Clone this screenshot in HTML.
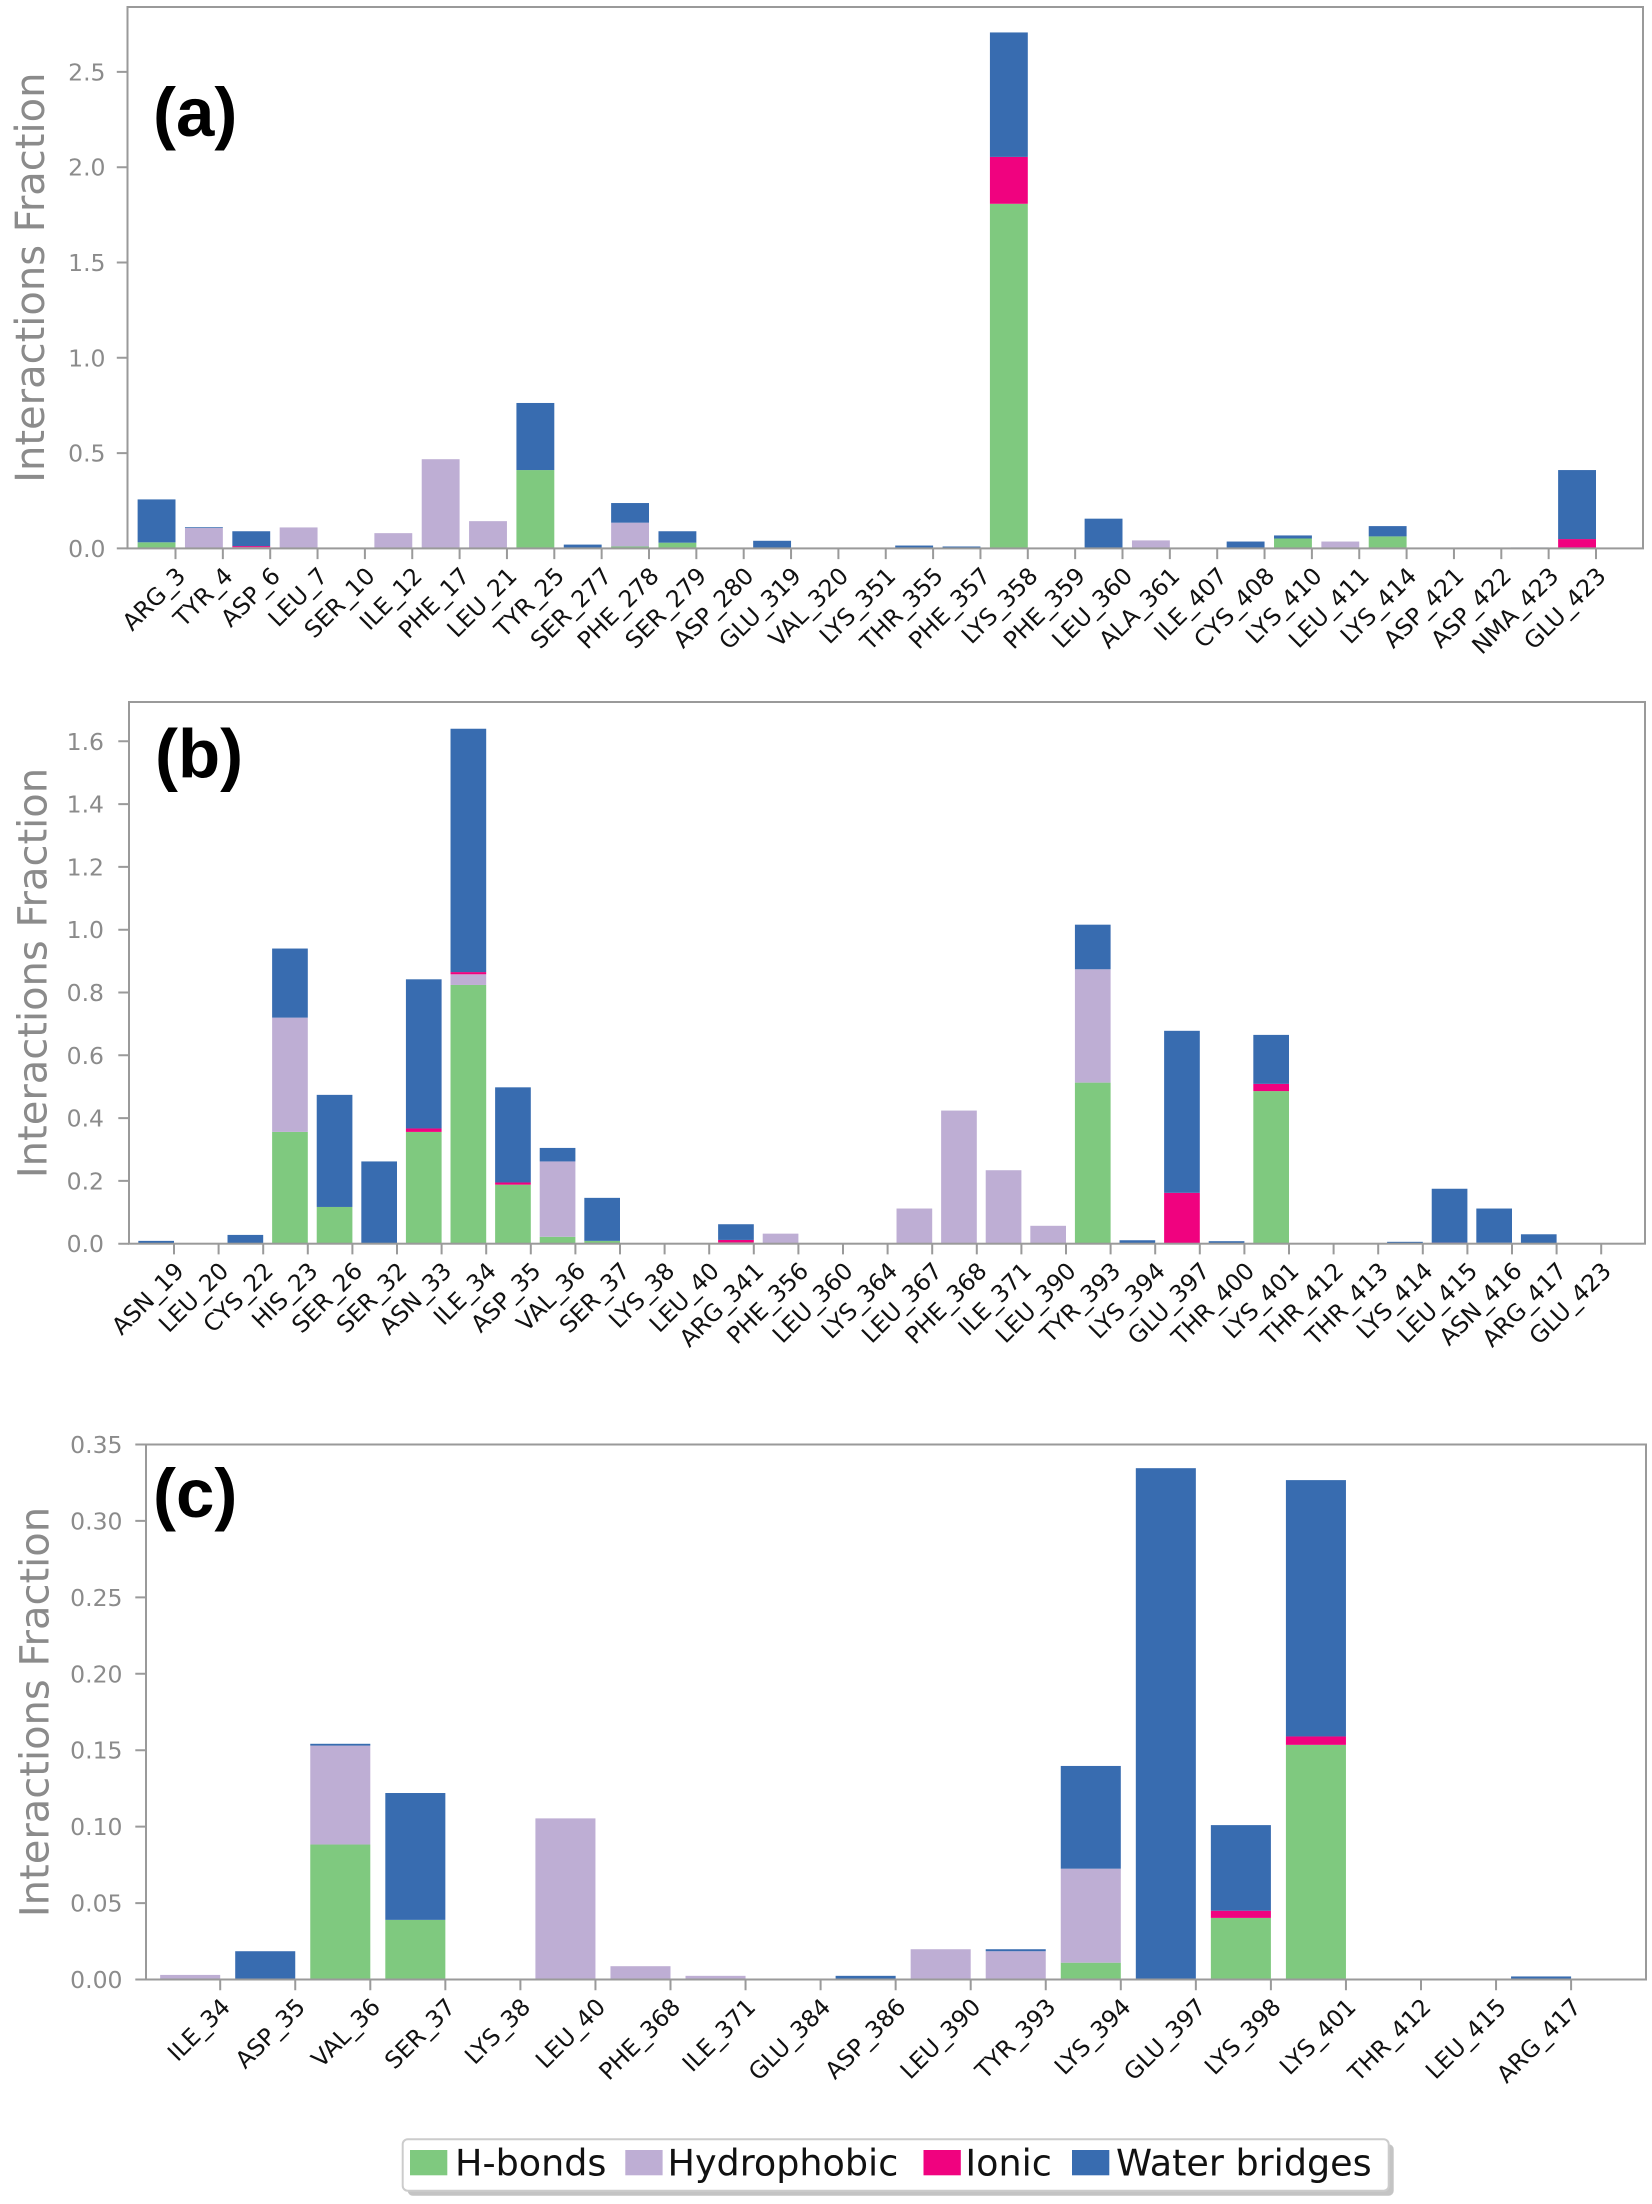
<!DOCTYPE html>
<html>
<head>
<meta charset="utf-8">
<style>
html,body{margin:0;padding:0;background:#fff;}
svg{display:block;}
.xt{font-family:"DejaVu Sans","Liberation Sans",sans-serif;font-size:23.5px;fill:#111;text-anchor:end;}
.yt{font-family:"DejaVu Sans","Liberation Sans",sans-serif;font-size:23.5px;fill:#8b8b8b;text-anchor:end;}
.yl{font-family:"DejaVu Sans","Liberation Sans",sans-serif;font-size:40px;fill:#8b8b8b;text-anchor:middle;}
.pl{font-family:"Liberation Sans",sans-serif;font-weight:bold;font-size:69px;fill:#000;}
.lg{font-family:"DejaVu Sans","Liberation Sans",sans-serif;font-size:36.5px;fill:#111;}
.g{fill:#7fc97f;}.p{fill:#beaed4;}.i{fill:#f0027f;}.w{fill:#386cb0;}
.tk{stroke:#9a9a9a;stroke-width:2;fill:none;}
.sp{stroke:#9a9a9a;stroke-width:2;fill:none;}
</style>
</head>
<body>
<svg width="1652" height="2204" viewBox="0 0 1652 2204" xmlns="http://www.w3.org/2000/svg">
<rect x="0" y="0" width="1652" height="2204" fill="#fff"/>

<!-- ================= PANEL A ================= -->
<g transform="translate(137.62,548.4) scale(47.35,-190.6)">
<rect class="g" x="0" y="0" width=".8" height=".032"/><rect class="w" x="0" y=".032" width=".8" height=".225"/>
<rect class="p" x="1" y="0" width=".8" height=".107"/><rect class="w" x="1" y=".107" width=".8" height=".004"/>
<rect class="g" x="2" y="0" width=".8" height=".006"/><rect class="i" x="2" y=".006" width=".8" height=".006"/><rect class="w" x="2" y=".012" width=".8" height=".078"/>
<rect class="p" x="3" y="0" width=".8" height=".110"/>
<rect class="p" x="5" y="0" width=".8" height=".080"/>
<rect class="p" x="6" y="0" width=".8" height=".468"/>
<rect class="p" x="7" y="0" width=".8" height=".143"/>
<rect class="g" x="8" y="0" width=".8" height=".411"/><rect class="w" x="8" y=".411" width=".8" height=".352"/>
<rect class="w" x="9" y="0" width=".8" height=".02"/>
<rect class="g" x="10" y="0" width=".8" height=".01"/><rect class="p" x="10" y=".01" width=".8" height=".125"/><rect class="w" x="10" y=".135" width=".8" height=".103"/>
<rect class="g" x="11" y="0" width=".8" height=".03"/><rect class="w" x="11" y=".03" width=".8" height=".06"/>
<rect class="w" x="13" y="0" width=".8" height=".04"/>
<rect class="w" x="16" y="0" width=".8" height=".015"/>
<rect class="w" x="17" y="0" width=".8" height=".01"/>
<rect class="g" x="18" y="0" width=".8" height="1.808"/><rect class="i" x="18" y="1.808" width=".8" height=".246"/><rect class="w" x="18" y="2.054" width=".8" height=".653"/>
<rect class="p" x="19" y="0" width=".8" height=".004"/>
<rect class="w" x="20" y="0" width=".8" height=".156"/>
<rect class="p" x="21" y="0" width=".8" height=".042"/>
<rect class="w" x="23" y="0" width=".8" height=".036"/>
<rect class="g" x="24" y="0" width=".8" height=".052"/><rect class="w" x="24" y=".052" width=".8" height=".016"/>
<rect class="p" x="25" y="0" width=".8" height=".036"/>
<rect class="g" x="26" y="0" width=".8" height=".063"/><rect class="w" x="26" y=".063" width=".8" height=".054"/>
<rect class="w" x="29" y="0" width=".8" height=".005"/>
<rect class="g" x="30" y="0" width=".8" height=".004"/><rect class="i" x="30" y=".004" width=".8" height=".045"/><rect class="w" x="30" y=".049" width=".8" height=".362"/>
</g>
<rect class="sp" x="127.5" y="7" width="1515.5" height="541.4"/>
<path class="tk" d="M175.5 548.4v10.7M222.85 548.4v10.7M270.2 548.4v10.7M317.55 548.4v10.7M364.9 548.4v10.7M412.25 548.4v10.7M459.6 548.4v10.7M506.95 548.4v10.7M554.3 548.4v10.7M601.65 548.4v10.7M649 548.4v10.7M696.35 548.4v10.7M743.7 548.4v10.7M791.05 548.4v10.7M838.4 548.4v10.7M885.75 548.4v10.7M933.1 548.4v10.7M980.45 548.4v10.7M1027.8 548.4v10.7M1075.15 548.4v10.7M1122.5 548.4v10.7M1169.85 548.4v10.7M1217.2 548.4v10.7M1264.55 548.4v10.7M1311.9 548.4v10.7M1359.25 548.4v10.7M1406.6 548.4v10.7M1453.95 548.4v10.7M1501.3 548.4v10.7M1548.65 548.4v10.7M1596 548.4v10.7"/>
<path class="tk" d="M116.8 548.4h10.7M116.8 453.1h10.7M116.8 357.8h10.7M116.8 262.5h10.7M116.8 167.2h10.7M116.8 71.9h10.7"/>
<text class="yt" x="105.5" y="556.9">0.0</text>
<text class="yt" x="105.5" y="461.6">0.5</text>
<text class="yt" x="105.5" y="366.3">1.0</text>
<text class="yt" x="105.5" y="271.0">1.5</text>
<text class="yt" x="105.5" y="175.7">2.0</text>
<text class="yt" x="105.5" y="80.4">2.5</text>
<text class="yl" transform="translate(44,277.7) rotate(-90)">Interactions Fraction</text>
<text class="pl" x="153" y="136">(a)</text>
<text class="xt" transform="translate(174.5,565) rotate(-45)" y="17.5">ARG_3</text>
<text class="xt" transform="translate(221.85,565) rotate(-45)" y="17.5">TYR_4</text>
<text class="xt" transform="translate(269.2,565) rotate(-45)" y="17.5">ASP_6</text>
<text class="xt" transform="translate(316.55,565) rotate(-45)" y="17.5">LEU_7</text>
<text class="xt" transform="translate(363.9,565) rotate(-45)" y="17.5">SER_10</text>
<text class="xt" transform="translate(411.25,565) rotate(-45)" y="17.5">ILE_12</text>
<text class="xt" transform="translate(458.6,565) rotate(-45)" y="17.5">PHE_17</text>
<text class="xt" transform="translate(505.95,565) rotate(-45)" y="17.5">LEU_21</text>
<text class="xt" transform="translate(553.3,565) rotate(-45)" y="17.5">TYR_25</text>
<text class="xt" transform="translate(600.65,565) rotate(-45)" y="17.5">SER_277</text>
<text class="xt" transform="translate(648,565) rotate(-45)" y="17.5">PHE_278</text>
<text class="xt" transform="translate(695.35,565) rotate(-45)" y="17.5">SER_279</text>
<text class="xt" transform="translate(742.7,565) rotate(-45)" y="17.5">ASP_280</text>
<text class="xt" transform="translate(790.05,565) rotate(-45)" y="17.5">GLU_319</text>
<text class="xt" transform="translate(837.4,565) rotate(-45)" y="17.5">VAL_320</text>
<text class="xt" transform="translate(884.75,565) rotate(-45)" y="17.5">LYS_351</text>
<text class="xt" transform="translate(932.1,565) rotate(-45)" y="17.5">THR_355</text>
<text class="xt" transform="translate(979.45,565) rotate(-45)" y="17.5">PHE_357</text>
<text class="xt" transform="translate(1026.8,565) rotate(-45)" y="17.5">LYS_358</text>
<text class="xt" transform="translate(1074.15,565) rotate(-45)" y="17.5">PHE_359</text>
<text class="xt" transform="translate(1121.5,565) rotate(-45)" y="17.5">LEU_360</text>
<text class="xt" transform="translate(1168.85,565) rotate(-45)" y="17.5">ALA_361</text>
<text class="xt" transform="translate(1216.2,565) rotate(-45)" y="17.5">ILE_407</text>
<text class="xt" transform="translate(1263.55,565) rotate(-45)" y="17.5">CYS_408</text>
<text class="xt" transform="translate(1310.9,565) rotate(-45)" y="17.5">LYS_410</text>
<text class="xt" transform="translate(1358.25,565) rotate(-45)" y="17.5">LEU_411</text>
<text class="xt" transform="translate(1405.6,565) rotate(-45)" y="17.5">LYS_414</text>
<text class="xt" transform="translate(1452.95,565) rotate(-45)" y="17.5">ASP_421</text>
<text class="xt" transform="translate(1500.3,565) rotate(-45)" y="17.5">ASP_422</text>
<text class="xt" transform="translate(1547.65,565) rotate(-45)" y="17.5">NMA_423</text>
<text class="xt" transform="translate(1595,565) rotate(-45)" y="17.5">GLU_423</text>

<!-- ================= PANEL B ================= -->
<g transform="translate(138.32,1243.7) scale(44.6,-314)">
<rect class="w" x="0" y="0" width=".8" height=".009"/>
<rect class="w" x="2" y="0" width=".8" height=".028"/>
<rect class="g" x="3" y="0" width=".8" height=".356"/><rect class="p" x="3" y=".356" width=".8" height=".364"/><rect class="w" x="3" y=".72" width=".8" height=".22"/>
<rect class="g" x="4" y="0" width=".8" height=".117"/><rect class="w" x="4" y=".117" width=".8" height=".357"/>
<rect class="w" x="5" y="0" width=".8" height=".262"/>
<rect class="g" x="6" y="0" width=".8" height=".356"/><rect class="i" x="6" y=".356" width=".8" height=".011"/><rect class="w" x="6" y=".367" width=".8" height=".475"/>
<rect class="g" x="7" y="0" width=".8" height=".824"/><rect class="p" x="7" y=".824" width=".8" height=".034"/><rect class="i" x="7" y=".858" width=".8" height=".007"/><rect class="w" x="7" y=".865" width=".8" height=".775"/>
<rect class="g" x="8" y="0" width=".8" height=".188"/><rect class="i" x="8" y=".188" width=".8" height=".007"/><rect class="w" x="8" y=".195" width=".8" height=".303"/>
<rect class="g" x="9" y="0" width=".8" height=".022"/><rect class="p" x="9" y=".022" width=".8" height=".24"/><rect class="w" x="9" y=".262" width=".8" height=".043"/>
<rect class="g" x="10" y="0" width=".8" height=".009"/><rect class="w" x="10" y=".009" width=".8" height=".137"/>
<rect class="g" x="13" y="0" width=".8" height=".004"/><rect class="i" x="13" y=".004" width=".8" height=".008"/><rect class="w" x="13" y=".012" width=".8" height=".05"/>
<rect class="p" x="14" y="0" width=".8" height=".032"/>
<rect class="p" x="17" y="0" width=".8" height=".112"/>
<rect class="p" x="18" y="0" width=".8" height=".424"/>
<rect class="p" x="19" y="0" width=".8" height=".234"/>
<rect class="p" x="20" y="0" width=".8" height=".057"/>
<rect class="g" x="21" y="0" width=".8" height=".513"/><rect class="p" x="21" y=".513" width=".8" height=".361"/><rect class="w" x="21" y=".874" width=".8" height=".142"/>
<rect class="w" x="22" y="0" width=".8" height=".011"/>
<rect class="i" x="23" y="0" width=".8" height=".162"/><rect class="w" x="23" y=".162" width=".8" height=".516"/>
<rect class="w" x="24" y="0" width=".8" height=".008"/>
<rect class="g" x="25" y="0" width=".8" height=".486"/><rect class="i" x="25" y=".486" width=".8" height=".023"/><rect class="w" x="25" y=".509" width=".8" height=".156"/>
<rect class="w" x="28" y="0" width=".8" height=".006"/>
<rect class="i" x="29" y="0" width=".8" height=".003"/><rect class="w" x="29" y=".003" width=".8" height=".172"/>
<rect class="p" x="30" y="0" width=".8" height=".003"/><rect class="w" x="30" y=".003" width=".8" height=".109"/>
<rect class="w" x="31" y="0" width=".8" height=".030"/>
</g>
<rect class="sp" x="129" y="702" width="1516" height="541.7"/>
<path class="tk" d="M174 1243.7v10.7M218.6 1243.7v10.7M263.2 1243.7v10.7M307.8 1243.7v10.7M352.4 1243.7v10.7M397 1243.7v10.7M441.6 1243.7v10.7M486.2 1243.7v10.7M530.8 1243.7v10.7M575.4 1243.7v10.7M620 1243.7v10.7M664.6 1243.7v10.7M709.2 1243.7v10.7M753.8 1243.7v10.7M798.4 1243.7v10.7M843 1243.7v10.7M887.6 1243.7v10.7M932.2 1243.7v10.7M976.8 1243.7v10.7M1021.4 1243.7v10.7M1066 1243.7v10.7M1110.6 1243.7v10.7M1155.2 1243.7v10.7M1199.8 1243.7v10.7M1244.4 1243.7v10.7M1289 1243.7v10.7M1333.6 1243.7v10.7M1378.2 1243.7v10.7M1422.8 1243.7v10.7M1467.4 1243.7v10.7M1512 1243.7v10.7M1556.6 1243.7v10.7M1601.2 1243.7v10.7"/>
<path class="tk" d="M118.3 1243.7h10.7M118.3 1180.9h10.7M118.3 1118.1h10.7M118.3 1055.3h10.7M118.3 992.5h10.7M118.3 929.7h10.7M118.3 866.9h10.7M118.3 804.1h10.7M118.3 741.3h10.7"/>
<text class="yt" x="104" y="1252.2">0.0</text>
<text class="yt" x="104" y="1189.4">0.2</text>
<text class="yt" x="104" y="1126.6">0.4</text>
<text class="yt" x="104" y="1063.8">0.6</text>
<text class="yt" x="104" y="1001.0">0.8</text>
<text class="yt" x="104" y="938.2">1.0</text>
<text class="yt" x="104" y="875.4">1.2</text>
<text class="yt" x="104" y="812.6">1.4</text>
<text class="yt" x="104" y="749.8">1.6</text>
<text class="yl" transform="translate(46.5,973) rotate(-90)">Interactions Fraction</text>
<text class="pl" x="155" y="777.5">(b)</text>
<text class="xt" transform="translate(173,1260) rotate(-45)" y="17.5">ASN_19</text>
<text class="xt" transform="translate(217.6,1260) rotate(-45)" y="17.5">LEU_20</text>
<text class="xt" transform="translate(262.2,1260) rotate(-45)" y="17.5">CYS_22</text>
<text class="xt" transform="translate(306.8,1260) rotate(-45)" y="17.5">HIS_23</text>
<text class="xt" transform="translate(351.4,1260) rotate(-45)" y="17.5">SER_26</text>
<text class="xt" transform="translate(396,1260) rotate(-45)" y="17.5">SER_32</text>
<text class="xt" transform="translate(440.6,1260) rotate(-45)" y="17.5">ASN_33</text>
<text class="xt" transform="translate(485.2,1260) rotate(-45)" y="17.5">ILE_34</text>
<text class="xt" transform="translate(529.8,1260) rotate(-45)" y="17.5">ASP_35</text>
<text class="xt" transform="translate(574.4,1260) rotate(-45)" y="17.5">VAL_36</text>
<text class="xt" transform="translate(619,1260) rotate(-45)" y="17.5">SER_37</text>
<text class="xt" transform="translate(663.6,1260) rotate(-45)" y="17.5">LYS_38</text>
<text class="xt" transform="translate(708.2,1260) rotate(-45)" y="17.5">LEU_40</text>
<text class="xt" transform="translate(752.8,1260) rotate(-45)" y="17.5">ARG_341</text>
<text class="xt" transform="translate(797.4,1260) rotate(-45)" y="17.5">PHE_356</text>
<text class="xt" transform="translate(842,1260) rotate(-45)" y="17.5">LEU_360</text>
<text class="xt" transform="translate(886.6,1260) rotate(-45)" y="17.5">LYS_364</text>
<text class="xt" transform="translate(931.2,1260) rotate(-45)" y="17.5">LEU_367</text>
<text class="xt" transform="translate(975.8,1260) rotate(-45)" y="17.5">PHE_368</text>
<text class="xt" transform="translate(1020.4,1260) rotate(-45)" y="17.5">ILE_371</text>
<text class="xt" transform="translate(1065,1260) rotate(-45)" y="17.5">LEU_390</text>
<text class="xt" transform="translate(1109.6,1260) rotate(-45)" y="17.5">TYR_393</text>
<text class="xt" transform="translate(1154.2,1260) rotate(-45)" y="17.5">LYS_394</text>
<text class="xt" transform="translate(1198.8,1260) rotate(-45)" y="17.5">GLU_397</text>
<text class="xt" transform="translate(1243.4,1260) rotate(-45)" y="17.5">THR_400</text>
<text class="xt" transform="translate(1288,1260) rotate(-45)" y="17.5">LYS_401</text>
<text class="xt" transform="translate(1332.6,1260) rotate(-45)" y="17.5">THR_412</text>
<text class="xt" transform="translate(1377.2,1260) rotate(-45)" y="17.5">THR_413</text>
<text class="xt" transform="translate(1421.8,1260) rotate(-45)" y="17.5">LYS_414</text>
<text class="xt" transform="translate(1466.4,1260) rotate(-45)" y="17.5">LEU_415</text>
<text class="xt" transform="translate(1511,1260) rotate(-45)" y="17.5">ASN_416</text>
<text class="xt" transform="translate(1555.6,1260) rotate(-45)" y="17.5">ARG_417</text>
<text class="xt" transform="translate(1600.2,1260) rotate(-45)" y="17.5">GLU_423</text>

<!-- ================= PANEL C ================= -->
<g transform="translate(160.16,1979.5) scale(75.05,-1528.6)">
<rect class="p" x="0" y="0" width=".8" height=".003"/>
<rect class="w" x="1" y="0" width=".8" height=".0185"/>
<rect class="g" x="2" y="0" width=".8" height=".0883"/><rect class="p" x="2" y=".0883" width=".8" height=".0647"/><rect class="w" x="2" y=".153" width=".8" height=".0012"/>
<rect class="g" x="3" y="0" width=".8" height=".039"/><rect class="w" x="3" y=".039" width=".8" height=".083"/>
<rect class="p" x="5" y="0" width=".8" height=".1054"/>
<rect class="p" x="6" y="0" width=".8" height=".0087"/>
<rect class="p" x="7" y="0" width=".8" height=".0024"/>
<rect class="w" x="9" y="0" width=".8" height=".0024"/>
<rect class="p" x="10" y="0" width=".8" height=".0198"/>
<rect class="p" x="11" y="0" width=".8" height=".0185"/><rect class="w" x="11" y=".0185" width=".8" height=".0013"/>
<rect class="g" x="12" y="0" width=".8" height=".011"/><rect class="p" x="12" y=".011" width=".8" height=".0615"/><rect class="w" x="12" y=".0725" width=".8" height=".0672"/>
<rect class="w" x="13" y="0" width=".8" height=".3345"/>
<rect class="g" x="14" y="0" width=".8" height=".0403"/><rect class="i" x="14" y=".0403" width=".8" height=".0047"/><rect class="w" x="14" y=".045" width=".8" height=".056"/>
<rect class="g" x="15" y="0" width=".8" height=".1535"/><rect class="i" x="15" y=".1535" width=".8" height=".0055"/><rect class="w" x="15" y=".159" width=".8" height=".1677"/>
<rect class="w" x="16" y="0" width=".8" height=".0006"/>
<rect class="w" x="18" y="0" width=".8" height=".002"/>
</g>
<rect class="sp" x="146" y="1444.5" width="1500" height="535"/>
<path class="tk" d="M220.2 1979.5v10.7M295.25 1979.5v10.7M370.3 1979.5v10.7M445.35 1979.5v10.7M520.4 1979.5v10.7M595.45 1979.5v10.7M670.5 1979.5v10.7M745.55 1979.5v10.7M820.6 1979.5v10.7M895.65 1979.5v10.7M970.7 1979.5v10.7M1045.75 1979.5v10.7M1120.8 1979.5v10.7M1195.85 1979.5v10.7M1270.9 1979.5v10.7M1345.95 1979.5v10.7M1421 1979.5v10.7M1496.05 1979.5v10.7M1571.1 1979.5v10.7"/>
<path class="tk" d="M135.3 1979.5h10.7M135.3 1903.07h10.7M135.3 1826.64h10.7M135.3 1750.21h10.7M135.3 1673.78h10.7M135.3 1597.35h10.7M135.3 1520.92h10.7M135.3 1444.49h10.7"/>
<text class="yt" x="122.5" y="1988.0">0.00</text>
<text class="yt" x="122.5" y="1911.6">0.05</text>
<text class="yt" x="122.5" y="1835.1">0.10</text>
<text class="yt" x="122.5" y="1758.7">0.15</text>
<text class="yt" x="122.5" y="1682.3">0.20</text>
<text class="yt" x="122.5" y="1605.9">0.25</text>
<text class="yt" x="122.5" y="1529.4">0.30</text>
<text class="yt" x="122.5" y="1453.0">0.35</text>
<text class="yl" transform="translate(48.5,1712) rotate(-90)">Interactions Fraction</text>
<text class="pl" x="153" y="1517">(c)</text>
<text class="xt" transform="translate(219.2,1996) rotate(-45)" y="17.5">ILE_34</text>
<text class="xt" transform="translate(294.25,1996) rotate(-45)" y="17.5">ASP_35</text>
<text class="xt" transform="translate(369.3,1996) rotate(-45)" y="17.5">VAL_36</text>
<text class="xt" transform="translate(444.35,1996) rotate(-45)" y="17.5">SER_37</text>
<text class="xt" transform="translate(519.4,1996) rotate(-45)" y="17.5">LYS_38</text>
<text class="xt" transform="translate(594.45,1996) rotate(-45)" y="17.5">LEU_40</text>
<text class="xt" transform="translate(669.5,1996) rotate(-45)" y="17.5">PHE_368</text>
<text class="xt" transform="translate(744.55,1996) rotate(-45)" y="17.5">ILE_371</text>
<text class="xt" transform="translate(819.6,1996) rotate(-45)" y="17.5">GLU_384</text>
<text class="xt" transform="translate(894.65,1996) rotate(-45)" y="17.5">ASP_386</text>
<text class="xt" transform="translate(969.7,1996) rotate(-45)" y="17.5">LEU_390</text>
<text class="xt" transform="translate(1044.75,1996) rotate(-45)" y="17.5">TYR_393</text>
<text class="xt" transform="translate(1119.8,1996) rotate(-45)" y="17.5">LYS_394</text>
<text class="xt" transform="translate(1194.85,1996) rotate(-45)" y="17.5">GLU_397</text>
<text class="xt" transform="translate(1269.9,1996) rotate(-45)" y="17.5">LYS_398</text>
<text class="xt" transform="translate(1344.95,1996) rotate(-45)" y="17.5">LYS_401</text>
<text class="xt" transform="translate(1420,1996) rotate(-45)" y="17.5">THR_412</text>
<text class="xt" transform="translate(1495.05,1996) rotate(-45)" y="17.5">LEU_415</text>
<text class="xt" transform="translate(1570.1,1996) rotate(-45)" y="17.5">ARG_417</text>

<!-- ================= LEGEND ================= -->
<rect x="407.7" y="2144.3" width="986" height="51.4" rx="5" fill="#c4c4c4"/>
<rect x="402.7" y="2139.3" width="986" height="51.4" rx="5" fill="#fff" stroke="#cccccc" stroke-width="2"/>
<rect class="g" x="410" y="2150" width="37.3" height="25.3"/>
<text class="lg" x="455" y="2175.3">H-bonds</text>
<rect class="p" x="625.3" y="2150" width="37.3" height="25.3"/>
<text class="lg" x="667.5" y="2175.3">Hydrophobic</text>
<rect class="i" x="923.5" y="2150" width="37.3" height="25.3"/>
<text class="lg" x="965.4" y="2175.3">Ionic</text>
<rect class="w" x="1072" y="2150" width="37.3" height="25.3"/>
<text class="lg" x="1116" y="2175.3">Water bridges</text>
</svg>
</body>
</html>
